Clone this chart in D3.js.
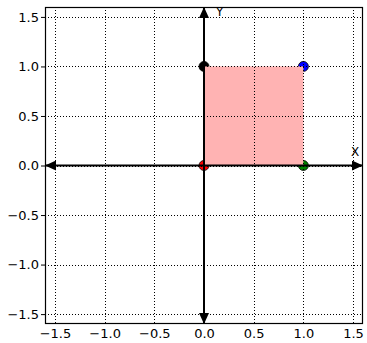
<!DOCTYPE html>
<html><head><meta charset="utf-8">
<script src="https://cdn.jsdelivr.net/npm/d3@7"></script>
<style>body{margin:0;background:#fff}svg{display:block}</style>
</head><body>
<script>
const ticks = [-1.5, -1.0, -0.5, 0.0, 0.5, 1.0, 1.5];
const domainX = [-1.6, 1.6];
const domainY = [-1.6, 1.6];
const pointX = [0, 1, 1, 0];
const pointY = [0, 0, 1, 1];
const pointColors = ["red", "green", "blue", "black"];
const squareX = [0, 1];
const squareY = [0, 1];

const W = 367, H = 343;
const m = {left: 45, top: 7, right: 4, bottom: 19};
const svg = d3.select("body").append("svg").attr("width", W).attr("height", H);
const x = d3.scaleLinear().domain(domainX).range([m.left, W - m.right]);
const y = d3.scaleLinear().domain(domainY).range([H - m.bottom, m.top]);

const fmt = d => (d < 0 ? "\u2212" : "") + Math.abs(d).toFixed(1);

// points (below square)
svg.append("g").selectAll("circle").data(pointX).join("circle")
  .attr("cx", (d) => x(d)).attr("cy", (d, i) => y(pointY[i]))
  .attr("r", 5).attr("fill", (d, i) => pointColors[i])
  .attr("stroke", "black").attr("stroke-width", 0.8);

// square
svg.append("rect")
  .attr("x", x(squareX[0])).attr("y", y(squareY[1]))
  .attr("width", x(squareX[1]) - x(squareX[0]))
  .attr("height", y(squareY[0]) - y(squareY[1]))
  .attr("fill", "#ffb3b3");

// grid
const grid = svg.append("g").attr("stroke", "black").attr("stroke-width", 1)
  .attr("stroke-dasharray", "1,2");
grid.selectAll(".gx").data(ticks).join("line")
  .attr("x1", d => Math.round(x(d)) + 0.5).attr("x2", d => Math.round(x(d)) + 0.5)
  .attr("y1", m.top).attr("y2", H - m.bottom);
grid.selectAll(".gy").data(ticks).join("line")
  .attr("y1", d => Math.round(y(d)) + 0.5).attr("y2", d => Math.round(y(d)) + 0.5)
  .attr("x1", m.left).attr("x2", W - m.right);

// axes tick labels
const xa = d3.axisBottom(x).tickValues(ticks).tickFormat(fmt).tickSize(0).tickPadding(5);
const ya = d3.axisLeft(y).tickValues(ticks).tickFormat(fmt).tickSize(4).tickPadding(2);
const gx = svg.append("g").attr("transform", `translate(0,${H - m.bottom})`).call(xa);
const gy = svg.append("g").attr("transform", `translate(${m.left},0)`).call(ya);
[gx, gy].forEach(g => {
  g.select(".domain").remove();
  g.selectAll("text").attr("font-family", "DejaVu Sans").attr("font-size", 13).attr("fill", "black");
  g.selectAll("line").attr("stroke", "black");
});
gx.selectAll("text").attr("dy", "0.71em");

// frame
svg.append("rect").attr("x", m.left + 0.5).attr("y", m.top + 0.5)
  .attr("width", W - m.left - m.right - 1).attr("height", H - m.top - m.bottom - 1)
  .attr("fill", "none").attr("stroke", "black").attr("stroke-width", 1.2);

// arrow axes
const defs = svg.append("defs");
defs.append("marker").attr("id", "ah").attr("viewBox", "0 0 11 10")
  .attr("refX", 11).attr("refY", 5).attr("markerWidth", 11).attr("markerHeight", 10)
  .attr("markerUnits", "userSpaceOnUse").attr("orient", "auto-start-reverse")
  .append("path").attr("d", "M0,0 L11,5 L0,10 Z").attr("fill", "black");

svg.append("line")
  .attr("x1", x(domainX[0])).attr("x2", x(domainX[1]))
  .attr("y1", y(0)).attr("y2", y(0))
  .attr("stroke", "black").attr("stroke-width", 2)
  .attr("marker-start", "url(#ah)").attr("marker-end", "url(#ah)");
svg.append("line")
  .attr("x1", x(0)).attr("x2", x(0))
  .attr("y1", y(domainY[0])).attr("y2", y(domainY[1]))
  .attr("stroke", "black").attr("stroke-width", 2)
  .attr("marker-start", "url(#ah)").attr("marker-end", "url(#ah)");

// axis labels
svg.append("text").attr("x", x(0.12)).attr("y", y(1.51)).text("Y")
  .attr("font-family", "DejaVu Sans").attr("font-size", 12).attr("fill", "black");
svg.append("text").attr("x", x(1.48)).attr("y", y(0.1)).text("X")
  .attr("font-family", "DejaVu Sans").attr("font-size", 12).attr("fill", "black");
</script>
</body></html>
